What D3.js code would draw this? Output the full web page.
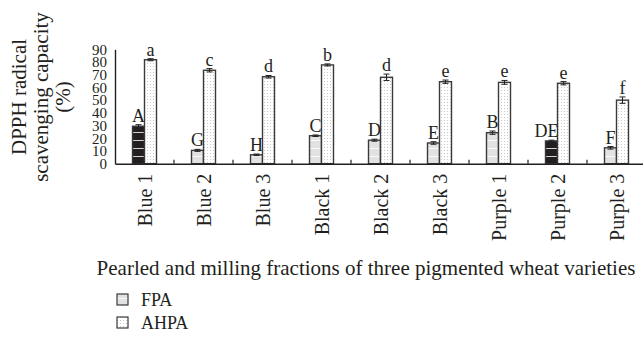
<!DOCTYPE html>
<html>
<head>
<meta charset="utf-8">
<script src="https://cdn.jsdelivr.net/npm/d3@7"></script>
<style>
  body { margin: 0; background: #fff; }
  svg { display: block; font-family: "Liberation Serif", "DejaVu Serif", serif; }
</style>
</head>
<body>
<svg id="chart"></svg>
<script>
// data
const categories = ["Blue 1", "Blue 2", "Blue 3", "Black 1", "Black 2", "Black 3", "Purple 1", "Purple 2", "Purple 3"]
const fpa = [29.5, 10.5, 7, 22, 18.5, 16.3, 24.4, 17.9, 12.5]
const fpaErr = [1.2, 0.8, 0.6, 0.6, 0.8, 1, 1.3, 0.6, 1]
const fpaLetters = ["A", "G", "H", "C", "D", "E", "B", "DE", "F"]
const ahpa = [81.8, 73.5, 68.4, 77.7, 68, 64.5, 64, 63.3, 50]
const ahpaErr = [0.8, 1.3, 1, 0.8, 2.5, 1.3, 1.5, 1.3, 2.5]
const ahpaLetters = ["a", "c", "d", "b", "d", "e", "e", "e", "f"]
const darkFpa = ["Blue 1", "Purple 2"]   // these two are drawn dark in the original
const yTicks = [0, 10, 20, 30, 40, 50, 60, 70, 80, 90]

const width = 643
const height = 340

const svg = d3.select("#chart")
  .attr("width", width)
  .attr("height", height)

// patterns
const defs = svg.append("defs")

function stripes(id, base) {
  const p = defs.append("pattern")
    .attr("id", id)
    .attr("patternUnits", "userSpaceOnUse")
    .attr("width", 12).attr("height", 8)
  p.append("rect").attr("width", 12).attr("height", 8).attr("fill", base)
  p.append("rect").attr("y", 4).attr("width", 12).attr("height", 1).attr("fill", "#fff").attr("opacity", 0.8)
}
stripes("fpaLight", "#e2e2e2")
stripes("fpaDark", "#231f20")

const dots = defs.append("pattern")
  .attr("id", "dots")
  .attr("patternUnits", "userSpaceOnUse")
  .attr("width", 3).attr("height", 3)
dots.append("rect").attr("width", 3).attr("height", 3).attr("fill", "#fff")
dots.append("rect").attr("width", 1).attr("height", 1).attr("fill", "#c8c8c8")

// scales
const x = d3.scaleBand().domain(categories).range([115, 646]).padding(0)
const y = d3.scaleLinear().domain([0, 90]).range([163.7, 49.3])
const barW = 12

// bars
const g = svg.append("g")

function drawSeries(vals, errs, letters, offset, fillFn) {
  const sel = g.append("g")
  sel.selectAll("rect")
    .data(categories)
    .join("rect")
      .attr("x", d => x(d) + x.bandwidth() / 2 + offset)
      .attr("y", (d, i) => y(vals[i]))
      .attr("width", barW)
      .attr("height", (d, i) => y(0) - y(vals[i]))
      .attr("fill", fillFn)
      .attr("stroke", "#3a3a3a")
      .attr("stroke-width", 1.4)

  // error bars
  const eb = sel.selectAll("g.err")
    .data(categories)
    .join("g")
      .attr("class", "err")
      .attr("transform", d => `translate(${x(d) + x.bandwidth() / 2 + offset + barW / 2},0)`)
  eb.append("line")
    .attr("y1", (d, i) => y(vals[i] - errs[i]))
    .attr("y2", (d, i) => y(vals[i] + errs[i]))
    .attr("stroke", "#222").attr("stroke-width", 1)
  eb.append("line")
    .attr("x1", -3).attr("x2", 3)
    .attr("y1", (d, i) => y(vals[i] + errs[i]))
    .attr("y2", (d, i) => y(vals[i] + errs[i]))
    .attr("stroke", "#222").attr("stroke-width", 1)
  eb.append("line")
    .attr("x1", -3).attr("x2", 3)
    .attr("y1", (d, i) => y(vals[i] - errs[i]))
    .attr("y2", (d, i) => y(vals[i] - errs[i]))
    .attr("stroke", "#222").attr("stroke-width", 1)

  // significance letters (two-letter labels end at the bar's right edge)
  sel.selectAll("text")
    .data(categories)
    .join("text")
      .attr("x", (d, i) => x(d) + x.bandwidth() / 2 + offset + (letters[i].length > 1 ? barW + 1 : barW / 2))
      .attr("y", (d, i) => y(vals[i] + errs[i]) - 3)
      .attr("text-anchor", (d, i) => letters[i].length > 1 ? "end" : "middle")
      .attr("font-size", 18)
      .attr("fill", "#231f20")
      .text((d, i) => letters[i])
}

drawSeries(fpa, fpaErr, fpaLetters, -barW, d => darkFpa.includes(d) ? "url(#fpaDark)" : "url(#fpaLight)")
drawSeries(ahpa, ahpaErr, ahpaLetters, 0, () => "url(#dots)")

// axes
const xAxis = svg.append("g")
  .attr("transform", `translate(0,${y(0)})`)
  .call(d3.axisBottom(x).tickSize(0).tickPadding(10))
xAxis.select(".domain").attr("stroke", "#231f20").attr("stroke-width", 1.4)
xAxis.selectAll(".tick text")
  .attr("font-size", 20)
  .attr("fill", "#231f20")
  .attr("font-family", "Liberation Serif, serif")
  .attr("transform", "rotate(-90)")
  .attr("text-anchor", "end")
  .attr("dy", "0.35em")
  .attr("x", -10)
  .attr("y", 0)

// small inward ticks between groups
svg.append("g")
  .selectAll("line")
  .data(categories.slice(1))
  .join("line")
    .attr("x1", d => x(d)).attr("x2", d => x(d))
    .attr("y1", y(0)).attr("y2", y(0) - 4)
    .attr("stroke", "#231f20").attr("stroke-width", 1.2)

const yAxis = svg.append("g")
  .attr("transform", `translate(115,0)`)
  .call(d3.axisLeft(y).tickValues(yTicks).tickSize(0).tickPadding(8))
yAxis.select(".domain").attr("stroke", "#231f20").attr("stroke-width", 1.4)
yAxis.selectAll(".tick text")
  .attr("font-size", 15)
  .attr("fill", "#231f20")
  .attr("font-family", "Liberation Serif, serif")

// y title
const yTitle = ["DPPH radical", "scavenging capacity", "(%)"]
svg.append("g")
  .selectAll("text")
  .data(yTitle)
  .join("text")
    .attr("transform", (d, i) => `translate(${26 + i * 22},97) rotate(-90)`)
    .attr("text-anchor", "middle")
    .attr("font-size", 21)
    .attr("fill", "#231f20")
    .text(d => d)

// x title
svg.append("text")
  .attr("x", 366)
  .attr("y", 275)
  .attr("text-anchor", "middle")
  .attr("font-size", 21)
  .attr("fill", "#231f20")
  .text("Pearled and milling fractions of three pigmented wheat varieties")

// legend
const legendNames = ["FPA", "AHPA"]
const legendFills = ["url(#fpaLight)", "url(#dots)"]
const lg = svg.append("g")
  .selectAll("g")
  .data(legendNames)
  .join("g")
    .attr("transform", (d, i) => `translate(117,${294 + i * 23})`)
lg.append("rect")
  .attr("width", 11).attr("height", 11)
  .attr("fill", (d, i) => legendFills[i])
  .attr("stroke", "#3a3a3a").attr("stroke-width", 1.2)
lg.append("text")
  .attr("x", 24).attr("y", 12)
  .attr("font-size", 18)
  .attr("fill", "#231f20")
  .text(d => d)
</script>
</body>
</html>
